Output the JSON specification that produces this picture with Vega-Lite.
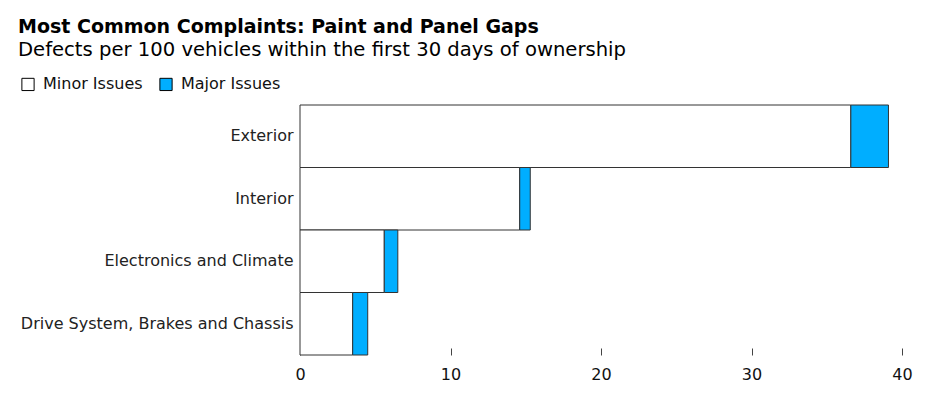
{
  "$schema": "https://vega.github.io/schema/vega-lite/v6.json",
  "width": 602,
  "height": 250,
  "autosize": {"type": "none"},
  "padding": {"left": 300, "top": 105, "right": 41, "bottom": 48},
  "background": "white",
  "view": {"stroke": null},
  "title": {
    "text": "Most Common Complaints: Paint and Panel Gaps",
    "subtitle": "Defects per 100 vehicles within the first 30 days of ownership",
    "anchor": "start",
    "frame": "group",
    "dx": -282,
    "offset": 16,
    "font": "DejaVu Sans",
    "fontSize": 19,
    "fontWeight": "bold",
    "color": "#000000",
    "subtitleFont": "DejaVu Sans",
    "subtitleFontSize": 19.6,
    "subtitleColor": "#000000",
    "subtitlePadding": 4
  },
  "data": {
    "values": [
      {"category": "Exterior", "type": "Minor Issues", "value": 36.6},
      {"category": "Exterior", "type": "Major Issues", "value": 2.5},
      {"category": "Interior", "type": "Minor Issues", "value": 14.6},
      {"category": "Interior", "type": "Major Issues", "value": 0.7},
      {"category": "Electronics and Climate", "type": "Minor Issues", "value": 5.6},
      {"category": "Electronics and Climate", "type": "Major Issues", "value": 0.9},
      {"category": "Drive System, Brakes and Chassis", "type": "Minor Issues", "value": 3.5},
      {"category": "Drive System, Brakes and Chassis", "type": "Major Issues", "value": 1.0}
    ]
  },
  "mark": {"type": "bar", "stroke": "#333333", "strokeWidth": 1},
  "encoding": {
    "y": {
      "field": "category",
      "type": "nominal",
      "sort": ["Exterior", "Interior", "Electronics and Climate", "Drive System, Brakes and Chassis"],
      "scale": {"paddingInner": 0, "paddingOuter": 0},
      "axis": {
        "title": null,
        "domain": false,
        "ticks": false,
        "labelPadding": 7,
        "labelFont": "DejaVu Sans",
        "labelFontSize": 16,
        "labelColor": "#222222",
        "labelLimit": 300
      }
    },
    "x": {
      "field": "value",
      "type": "quantitative",
      "stack": "zero",
      "scale": {"domain": [0, 40], "nice": false},
      "axis": {
        "title": null,
        "domain": false,
        "grid": false,
        "values": [0, 10, 20, 30, 40],
        "tickSize": -7,
        "tickColor": "#444444",
        "labelFlush": false,
        "labelPadding": 18,
        "labelFont": "DejaVu Sans",
        "labelFontSize": 16,
        "labelColor": "#111111"
      }
    },
    "color": {
      "field": "type",
      "type": "nominal",
      "sort": ["Minor Issues", "Major Issues"],
      "scale": {"domain": ["Minor Issues", "Major Issues"], "range": ["#ffffff", "#00aeff"]},
      "legend": {
        "title": null,
        "orient": "none",
        "legendX": -280,
        "legendY": -29,
        "direction": "horizontal",
        "symbolType": "square",
        "symbolSize": 150,
        "symbolStrokeColor": "#000000",
        "symbolStrokeWidth": 1,
        "labelFont": "DejaVu Sans",
        "labelFontSize": 16,
        "labelColor": "#111111",
        "columnPadding": 14,
        "labelOffset": 7
      }
    },
    "order": {"field": "type", "sort": "descending"}
  }
}
